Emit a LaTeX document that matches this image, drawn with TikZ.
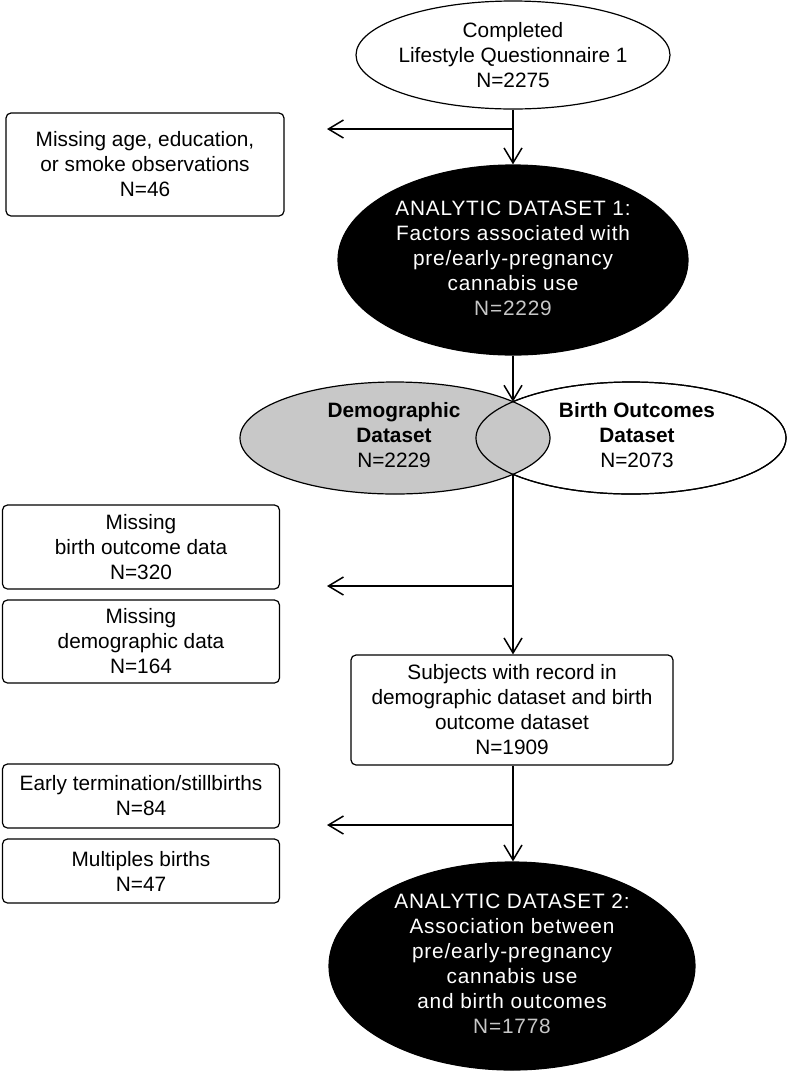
\documentclass[tikz,border=0pt]{standalone}
\usepackage{fontspec}
\setmainfont{Liberation Sans}
\usetikzlibrary{shapes.geometric,arrows.meta}
\definecolor{vennfill}{RGB}{200,200,200}
\begin{document}
\begin{tikzpicture}[x=1pt,y=-1pt,
  every node/.style={font=\fontsize{20.8}{25}\selectfont},
  ell/.style={ellipse,draw=black,line width=1.2pt,inner sep=0pt},
  txt/.style={align=center,inner sep=0pt},
  wtxt/.style={txt,text=white,font=\fontsize{20.8}{25}\selectfont\addfontfeatures{LetterSpace=4}},
  box/.style={draw=black,line width=1.2pt,rounded corners=5pt,inner sep=0pt,align=center},
  conn/.style={line width=1.5pt},
  arr/.style={conn,-{Straight Barb[length=15pt,width=18pt]}}
]
\useasboundingbox (0,0) rectangle (787,1072);

% top ellipse
\node[ell,fill=white,minimum width=314pt,minimum height=108pt] (q1) at (513,55) {};
\node[txt] (q1t) at (q1) {Completed\\Lifestyle Questionnaire 1\\N=2275};

% excluded box 1
\node[box,minimum width=278pt,minimum height=103pt] (m1) at (145,164.5) {Missing age, education,\\or smoke observations\\N=46};

% analytic dataset 1
\node[ell,fill=black,minimum width=350pt,minimum height=190pt] (ad1) at (513,260) {};
\node[wtxt] (ad1t) at (513,258) {ANALYTIC DATASET 1:\\Factors associated with\\pre/early-pregnancy\\cannabis use\\\textcolor{white!78!black}{N=2229}};

% venn
\node[ell,fill=white,minimum width=310pt,minimum height=112pt] (bo) at (631,438) {};
\node[ell,fill=vennfill,minimum width=310pt,minimum height=112pt] (dem) at (395,438) {};
\node[ell,minimum width=310pt,minimum height=112pt] (boline) at (631,438) {};
\node[txt] (demt) at (394,435) {\textbf{Demographic}\\\textbf{Dataset}\\N=2229};
\node[txt] (bot) at (637,435) {\textbf{Birth Outcomes}\\\textbf{Dataset}\\N=2073};
\coordinate (itop) at (513,401.7);
\coordinate (ibot) at (513,474.3);

% excluded boxes 2,3
\node[box,minimum width=277pt,minimum height=84pt] (m2) at (141,547) {Missing\\birth outcome data\\N=320};
\node[box,minimum width=277pt,minimum height=83pt] (m3) at (141,641.5) {Missing\\demographic data\\N=164};

% subjects box
\node[box,minimum width=322pt,minimum height=110pt] (subj) at (512,710) {Subjects with record in\\demographic dataset and birth\\outcome dataset\\N=1909};

% excluded boxes 4,5
\node[box,minimum width=277pt,minimum height=64pt] (m4) at (141,796) {Early termination/stillbirths\\N=84};
\node[box,minimum width=277pt,minimum height=64pt] (m5) at (141,871) {Multiples births\\N=47};

% analytic dataset 2
\node[ell,fill=black,minimum width=366pt,minimum height=208pt] (ad2) at (512,966) {};
\node[wtxt] (ad2t) at (512,964) {ANALYTIC DATASET 2:\\Association between\\pre/early-pregnancy\\cannabis use\\and birth outcomes\\\textcolor{white!78!black}{N=1778}};

% connectors
\coordinate (b1) at (513,129);
\coordinate (e1) at (327,129);
\draw[arr] (q1.south) -- (ad1.north);
\draw[arr] (b1) -- (e1);

\draw[arr] (ad1.south) -- (itop);

\coordinate (b2) at (513,586);
\coordinate (e2) at (327,586);
\draw[arr] (ibot) -- (subj.north -| ibot);
\draw[arr] (b2) -- (e2);

\coordinate (b3) at (513,825);
\coordinate (e3) at (327,825);
\draw[arr] (subj.south -| b3) -- (ad2.north -| b3);
\draw[arr] (b3) -- (e3);
\end{tikzpicture}
\end{document}
